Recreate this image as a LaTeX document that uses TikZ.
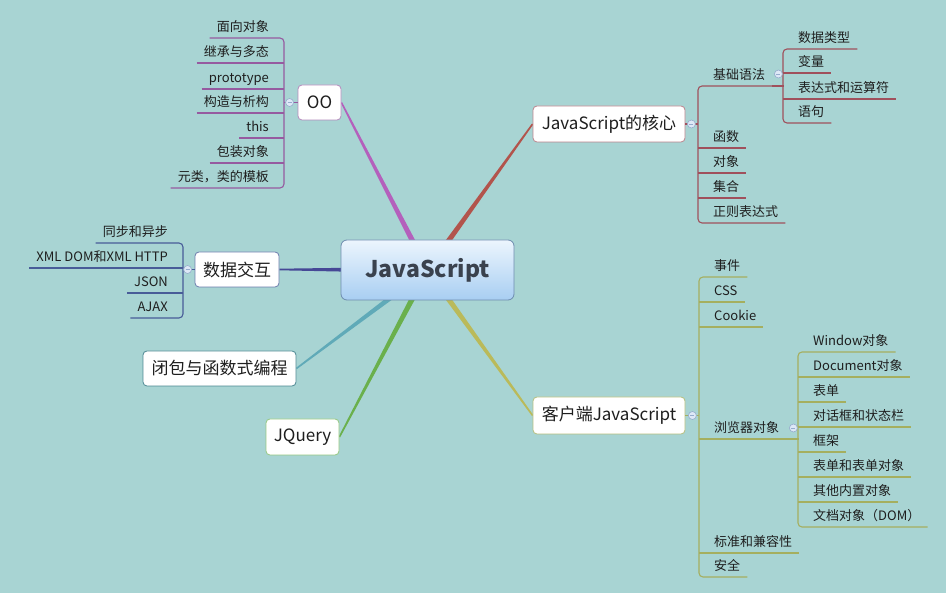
\documentclass[tikz,border=0pt]{standalone}
\usepackage{fontspec}
\setmainfont{Noto Sans CJK SC}
\usetikzlibrary{calc}
\pgfdeclarelayer{bg}
\pgfdeclarelayer{conn}
\pgfsetlayers{bg,conn,main}
\definecolor{bgc}{RGB}{168,212,211}
\definecolor{txt}{RGB}{30,30,30}
\definecolor{ooT}{RGB}{180,96,188}
\definecolor{ooL}{RGB}{150,90,160}
\definecolor{coreT}{RGB}{178,84,76}
\definecolor{coreL}{RGB}{160,80,92}
\definecolor{dataT}{RGB}{70,72,150}
\definecolor{dataL}{RGB}{72,92,152}
\definecolor{cloT}{RGB}{96,170,184}
\definecolor{jqT}{RGB}{106,176,76}
\definecolor{cliT}{RGB}{186,186,90}
\definecolor{cliL}{RGB}{165,175,95}
\definecolor{hubtop}{RGB}{236,245,253}
\definecolor{hubbot}{RGB}{168,206,242}
\definecolor{hubB}{RGB}{110,140,175}
\definecolor{hubT}{RGB}{58,66,78}
\definecolor{btnB}{RGB}{150,172,205}
\definecolor{btnF}{RGB}{222,232,246}
\newcommand\taper[4]{\fill[#3] ($(#1)!#4!90:(#2)$) -- ($(#2)!0.8pt!-90:(#1)$) -- ($(#2)!0.8pt!90:(#1)$) -- ($(#1)!#4!-90:(#2)$) -- cycle;}
\newcommand\Ls[3]{\node[sub,anchor=base east] (#1) at #2 {#3};}
\newcommand\Rs[3]{\node[sub,anchor=base west] (#1) at #2 {#3};}
\newcommand\midL[2]{\draw[#1] ($(#2.base west)+(0,6)$) -- ($(#2.base east)+(8,6)$);}
\newcommand\midR[2]{\draw[#1] ($(#2.base west)+(-8,6)$) -- ($(#2.base east)+(0,6)$);}
\newcommand\spL[3]{\draw[#1,rounded corners=4pt] ($(#2.base west)+(0,6)$) -| ($(#3.base east)+(8,6)$) -- ($(#3.base west)+(0,6)$);}
\newcommand\spR[3]{\draw[#1,rounded corners=4pt] ($(#2.base east)+(0,6)$) -| ($(#3.base west)+(-8,6)$) -- ($(#3.base east)+(0,6)$);}
\begin{document}
\begin{tikzpicture}[x=1pt,y=-1pt,
  sub/.style={inner xsep=7pt, inner ysep=0pt, font=\fontsize{13pt}{15pt}\selectfont, text=txt},
  topic/.style={draw, fill=white, rounded corners=4pt, inner sep=0pt, line width=0.8pt, font=\fontsize{17pt}{20pt}\selectfont, text=txt},
  hub/.style={draw=hubB, rounded corners=6pt, top color=hubtop, bottom color=hubbot, minimum width=173pt, minimum height=60pt, inner sep=0pt, line width=0.8pt, font=\fontsize{23pt}{27pt}\selectfont\bfseries, text=hubT},
  collapse/.style={circle, draw=btnB, fill=btnF, minimum size=8pt, inner sep=0pt, line width=0.6pt,
    path picture={\draw[btnB, line width=0.7pt] ([xshift=-2pt]path picture bounding box.center) -- ([xshift=2pt]path picture bounding box.center);}},
  sl/.style={line width=1.1pt}
]
\useasboundingbox (0,0) rectangle (946,593);
\begin{pgfonlayer}{bg}
\fill[bgc] (0,0) rectangle (946,593);
\end{pgfonlayer}

% central and main topics
\node[hub] (js) at (427.5,270) {JavaScript};
\node[topic, draw=ooL!70!white, minimum width=43pt, minimum height=35pt] (oo) at (319.5,102.5) {OO};
\node[topic, draw=coreL!70!white, minimum width=152pt, minimum height=36pt] (core) at (609,124) {JavaScript的核心};
\node[topic, draw=dataL!80!white, minimum width=84pt, minimum height=35pt] (data) at (237,269.5) {数据交互};
\node[topic, draw=cloT!80!black, minimum width=153pt, minimum height=35pt] (clo) at (219.5,368.5) {闭包与函数式编程};
\node[topic, draw=jqT!70!white, minimum width=73pt, minimum height=36pt] (jq) at (302.5,437) {JQuery};
\node[topic, draw=cliL!80!white, minimum width=152pt, minimum height=37pt] (cli) at (609,415.5) {客户端JavaScript};

% tapered connectors
\begin{pgfonlayer}{conn}
\taper{js.center}{oo.east}{ooT}{3pt}
\taper{js.center}{core.west}{coreT}{3pt}
\taper{js.center}{data.east}{dataT}{3.3pt}
\taper{js.center}{clo.east}{cloT}{3pt}
\taper{js.center}{jq.east}{jqT}{3pt}
\taper{js.center}{cli.west}{cliT}{3pt}
\end{pgfonlayer}

% OO branch
\Ls{o1}{(276,32)}{面向对象}
\Ls{o2}{(276,57)}{继承与多态}
\Ls{o3}{(276,83)}{prototype}
\Ls{o4}{(276,107)}{构造与析构}
\Ls{o5}{(276,132)}{this}
\Ls{o6}{(276,157)}{包装对象}
\Ls{o7}{(276,182)}{元类，类的模板}
\begin{scope}[ooL, sl]
\spL{}{o1}{o7}
\midL{}{o2}\midL{}{o3}\midL{}{o4}\midL{}{o5}\midL{}{o6}
\draw (oo.west) -- ++(-14,0);
\end{scope}
\node[collapse] (bo) at ($(oo.west)+(-8,0)$) {};

% data branch
\Ls{d1}{(175,237)}{同步和异步}
\Ls{d2}{(175,262)}{XML DOM和XML HTTP}
\Ls{d3}{(175,287)}{JSON}
\Ls{d4}{(175,312)}{AJAX}
\begin{scope}[dataL, sl]
\spL{}{d1}{d4}
\midL{}{d2}\midL{}{d3}
\draw (data.west) -- ++(-12,0);
\end{scope}
\node[collapse] (bd) at ($(data.west)+(-7,0)$) {};

% core branch
\Rs{c1}{(706,80)}{基础语法}
\Rs{c2}{(706,142)}{函数}
\Rs{c3}{(706,167)}{对象}
\Rs{c4}{(706,192)}{集合}
\Rs{c5}{(706,217)}{正则表达式}
\Rs{b1}{(791,43)}{数据类型}
\Rs{b2}{(791,67)}{变量}
\Rs{b3}{(791,93)}{表达式和运算符}
\Rs{b4}{(791,117)}{语句}
\begin{scope}[coreL, sl]
\spR{}{c1}{c5}
\draw ($(c1.base east)+(0,6)$) -- ++(12,0);
\midR{}{c2}\midR{}{c3}\midR{}{c4}
\spR{}{b1}{b4}
\midR{}{b2}\midR{}{b3}
\draw (core.east) -- ++(13,0);
\end{scope}
\node[collapse] (bc) at ($(core.east)+(6,0)$) {};
\node[collapse] (bc1) at ($(c1.base east)+(6,-6)$) {};

% client branch
\Rs{k1}{(707,271)}{事件}
\Rs{k2}{(707,296)}{CSS}
\Rs{k3}{(707,321)}{Cookie}
\Rs{k4}{(707,433)}{浏览器对象}
\Rs{k5}{(707,547)}{标准和兼容性}
\Rs{k6}{(707,571)}{安全}
\Rs{w1}{(806,346)}{Window对象}
\Rs{w2}{(806,371)}{Document对象}
\Rs{w3}{(806,396)}{表单}
\Rs{w4}{(806,421)}{对话框和状态栏}
\Rs{w5}{(806,446)}{框架}
\Rs{w6}{(806,471)}{表单和表单对象}
\Rs{w7}{(806,496)}{其他内置对象}
\Rs{w8}{(806,521)}{文档对象（DOM）}
\begin{scope}[cliL, sl]
\spR{}{k1}{k6}
\midR{}{k2}\midR{}{k3}\midR{}{k4}\midR{}{k5}
\draw ($(k4.base east)+(0,6)$) -- ++(13,0);
\spR{}{w1}{w8}
\midR{}{w2}\midR{}{w3}\midR{}{w4}\midR{}{w5}\midR{}{w6}\midR{}{w7}
\draw (cli.east) -- ++(14,0);
\end{scope}
\node[collapse] (bk) at ($(cli.east)+(7,0)$) {};
\node[collapse] (bk4) at ($(k4.base east)+(7,-5)$) {};
\end{tikzpicture}
\end{document}
